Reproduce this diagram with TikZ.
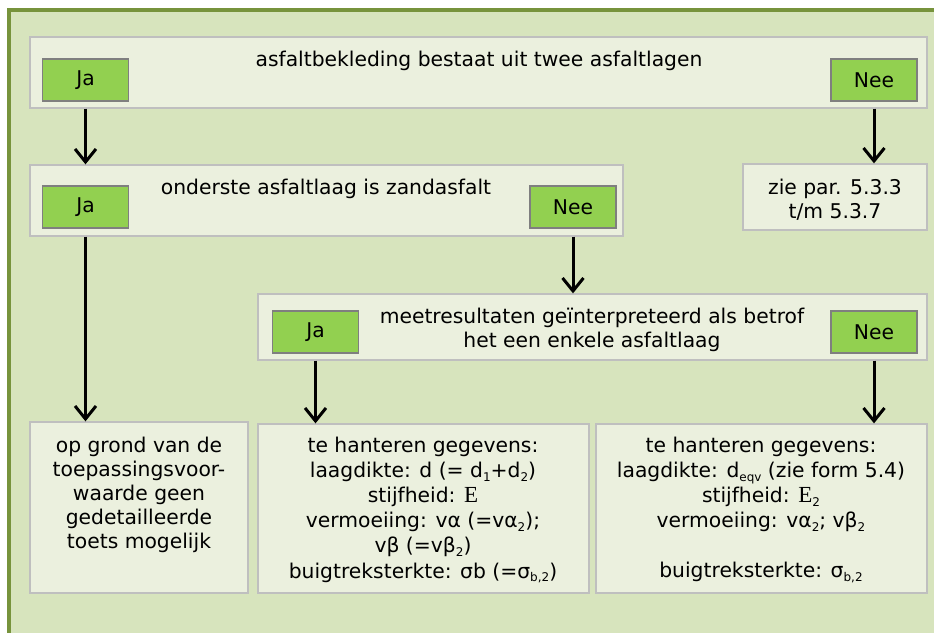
\documentclass[tikz,border=0pt]{standalone}
\usepackage{fontspec}
\setmainfont{DejaVu Sans}
\newfontfamily\serifE{Liberation Serif}
\usetikzlibrary{arrows.meta}
\definecolor{bgc}{HTML}{D7E4BD}
\definecolor{framec}{HTML}{77933C}
\definecolor{boxfill}{HTML}{EBF0DE}
\definecolor{boxline}{HTML}{BFBFBF}
\definecolor{yesfill}{HTML}{92D050}
\definecolor{yesline}{HTML}{7F7F7F}
\newcommand\lo[1]{\raisebox{-0.35ex}{\fontsize{12}{12}\selectfont #1}}
\newcommand\bigE{{\serifE\fontsize{23}{23}\selectfont E}}
\tikzset{
  panel/.style={draw=boxline, fill=boxfill, line width=1.3pt, inner sep=0pt},
  choice/.style={draw=yesline, fill=yesfill, line width=1.6pt, inner sep=0pt,
    minimum width=86pt, minimum height=42pt},
  txt/.style={align=center, inner sep=0pt},
  arr/.style={line width=3pt, -{Straight Barb[length=13pt,width=21pt]}},
  every node/.style={font=\fontsize{20.3}{24}\selectfont}
}
\begin{document}
\begin{tikzpicture}[x=1pt,y=-1pt]
\useasboundingbox (0,0) rectangle (934,632);
\clip (0,0) rectangle (934,632);
\fill[white] (0,0) rectangle (934,632);
\fill[bgc] (8.75,9.75) rectangle (960,660);
\draw[framec, line width=3.5pt] (8.75,660) -- (8.75,9.75) -- (960,9.75);

% row 1
\node[panel, minimum width=897pt, minimum height=71pt] (box1) at (478.5,72.5) {};
\node[txt] (t1) at (479,61) {asfaltbekleding bestaat uit twee asfaltlagen};
\node[choice] (ja1) at (85.5,80) {\raisebox{-1.5pt}{Ja}};
\node[choice] (nee1) at (874,80) {\raisebox{-1.5pt}{Nee}};

% row 2
\node[panel, minimum width=593pt, minimum height=71pt] (box2) at (326.5,200.5) {};
\node[txt] (t2) at (326,189) {onderste asfaltlaag is zandasfalt};
\node[choice] (ja2) at (85.5,207) {\raisebox{-1.5pt}{Ja}};
\node[choice] (nee2) at (573,207) {\raisebox{-1.5pt}{Nee}};

\node[panel, minimum width=184pt, minimum height=66pt] (zie) at (835,197) {};
\node[txt] (tz) at (835,200) {zie par. 5.3.3\\t/m 5.3.7};

% row 3
\node[panel, minimum width=669pt, minimum height=66pt] (box3) at (592.5,327) {};
\node[txt] (t3) at (592,330) {meetresultaten geïnterpreteerd als betrof\\het een enkele asfaltlaag};
\node[choice] (ja3) at (315.5,332) {\raisebox{-1.5pt}{Ja}};
\node[choice] (nee3) at (874,332) {\raisebox{-1.5pt}{Nee}};

% bottom row
\node[panel, minimum width=218pt, minimum height=171pt] (bl) at (139,507.5) {};
\node[txt] (tbl) at (139,495) {op grond van de\\toepassingsvoor-\\waarde geen\\gedetailleerde\\toets mogelijk};

\node[panel, minimum width=331pt, minimum height=169pt] (bm) at (423.5,508.5) {};
\node[txt, font=\fontsize{20.3}{25.2}\selectfont] (tbm) at (423,510) {te hanteren gegevens:\\laagdikte: d (= d\lo{1}+d\lo{2})\\stijfheid: \bigE\\vermoeiing: vα (=vα\lo{2});\\vβ (=vβ\lo{2})\\buigtreksterkte: σb (=σ\lo{b,2})};

\node[panel, minimum width=331pt, minimum height=169pt] (br) at (761.5,508.5) {};
\node[txt, font=\fontsize{20.3}{25}\selectfont] (tbr) at (761,510) {te hanteren gegevens:\\laagdikte: d\lo{eqv} (zie form 5.4)\\stijfheid: \bigE\lo{2}\\vermoeiing: vα\lo{2}; vβ\lo{2}\\[25pt]buigtreksterkte: σ\lo{b,2}};

% arrows
\draw[arr] (ja1 |- box1.south) -- (ja1 |- box2.north);
\draw[arr] (nee1 |- box1.south) -- (nee1 |- zie.north);
\draw[arr] (ja2 |- box2.south) -- (ja2 |- bl.north);
\draw[arr] (nee2 |- box2.south) -- (nee2 |- box3.north);
\draw[arr] (ja3 |- box3.south) -- (ja3 |- bm.north);
\draw[arr] (nee3 |- box3.south) -- (nee3 |- br.north);
\end{tikzpicture}
\end{document}
